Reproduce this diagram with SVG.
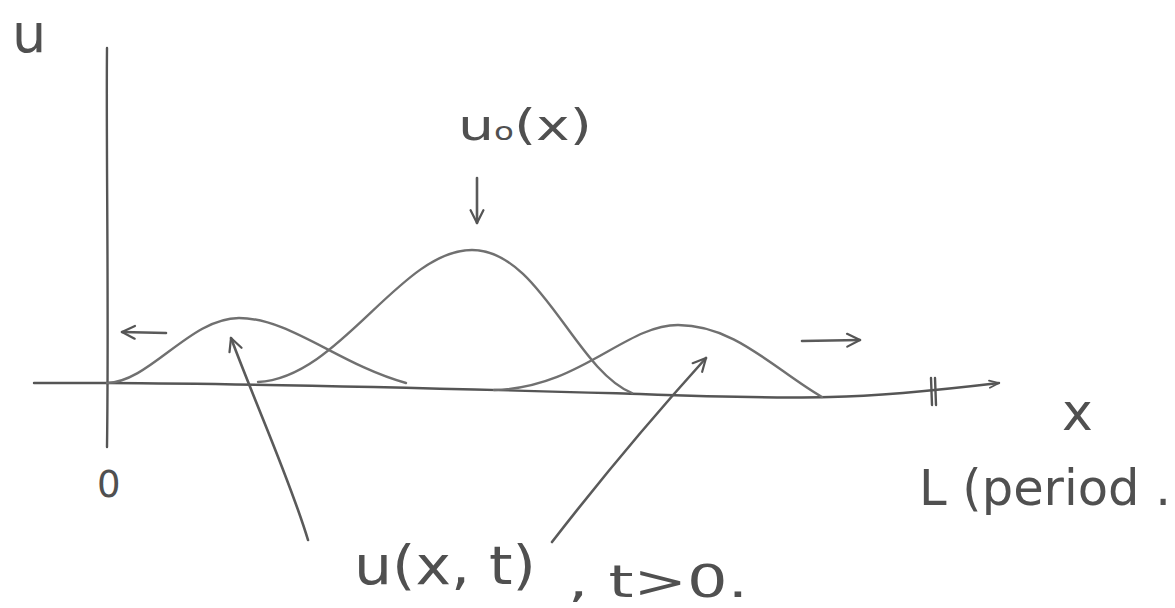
<svg xmlns="http://www.w3.org/2000/svg" width="1175" height="608" viewBox="0 0 1175 608">
<defs>
<marker id="vhead" viewBox="0 0 20 20" refX="18" refY="10" markerWidth="16" markerHeight="16" markerUnits="userSpaceOnUse" orient="auto">
<path d="M2,2 L18,10 L2,18" fill="none" stroke="#555" stroke-width="2.8" stroke-linecap="round" stroke-linejoin="round"/>
</marker>
<marker id="vheadS" viewBox="0 0 20 20" refX="18" refY="10" markerWidth="12" markerHeight="12" markerUnits="userSpaceOnUse" orient="auto">
<path d="M2,4 L18,10 L2,16" fill="none" stroke="#555" stroke-width="3" stroke-linecap="round" stroke-linejoin="round"/>
</marker>
</defs>
<style>
.ink{fill:none;stroke:#5a5a5a;stroke-width:2.6;stroke-linecap:round;stroke-linejoin:round}
.curve{fill:none;stroke:#707070;stroke-width:2.4;stroke-linecap:round}
.axis{fill:none;stroke:#555;stroke-width:2.4;stroke-linecap:round}
.lbl{font-family:"DejaVu Sans","Liberation Sans",sans-serif;fill:#505050}
</style>
<rect width="1175" height="608" fill="#ffffff"/>
<g id="axes">
<path class="axis" d="M107,48 C106,150 109,300 107,447"/>
<path class="axis" d="M34,383 L107,383 C300,384 500,390 640,394 C720,397 790,398 830,397 C880,396 940,390 999,383" marker-end="url(#vheadS)"/>
<path class="axis" d="M931,378 L932,405 M935,378 L936,405" stroke-width="2.2"/>
</g>
<g id="curves">
<path id="bump-left" class="curve" d="M107,383 C150,382 190,318 239,318 C290,318 340,365 406,383"/>
<path id="bump-u0" class="curve" d="M258,382 C340,378 400,250 472,250 C540,250 575,370 632,393"/>
<path id="bump-right" class="curve" d="M494,390 C580,388 625,325 678,325 C735,325 775,370 822,397"/>
</g>
<g id="connectors">
<path class="ink" d="M166,333 L122,332" marker-end="url(#vhead)"/>
<path class="ink" d="M802,341 L860,340" marker-end="url(#vhead)"/>
<path class="ink" d="M477,178 L477,223" marker-end="url(#vhead)"/>
<path class="ink" d="M308,540 C290,480 258,410 231,338" stroke="#888" stroke-width="2" marker-end="url(#vhead)"/>
<path class="ink" d="M552,542 C600,480 650,420 706,358" stroke="#666" stroke-width="2.2" marker-end="url(#vhead)"/>
</g>
<g id="label-u">
<text class="lbl" x="12" y="52" font-size="54">u</text>
</g>
<g id="label-u0">
<text class="lbl" x="458" y="140" font-size="42" textLength="134" lengthAdjust="spacingAndGlyphs">u<tspan font-size="24">o</tspan>(x)</text>
</g>
<g id="label-zero">
<text class="lbl" x="97" y="497" font-size="37">0</text>
</g>
<g id="label-x">
<text class="lbl" x="1062" y="430" font-size="52">x</text>
</g>
<g id="label-L">
<text class="lbl" x="919" y="505" font-size="50" textLength="252" lengthAdjust="spacingAndGlyphs">L (period .</text>
</g>
<g id="label-uxt">
<text class="lbl" x="354" y="584" font-size="54" textLength="182" lengthAdjust="spacingAndGlyphs">u(x, t)</text>
<text class="lbl" x="568" y="597" font-size="44" textLength="180" lengthAdjust="spacingAndGlyphs">, t&gt;0.</text>
</g>
</svg>
